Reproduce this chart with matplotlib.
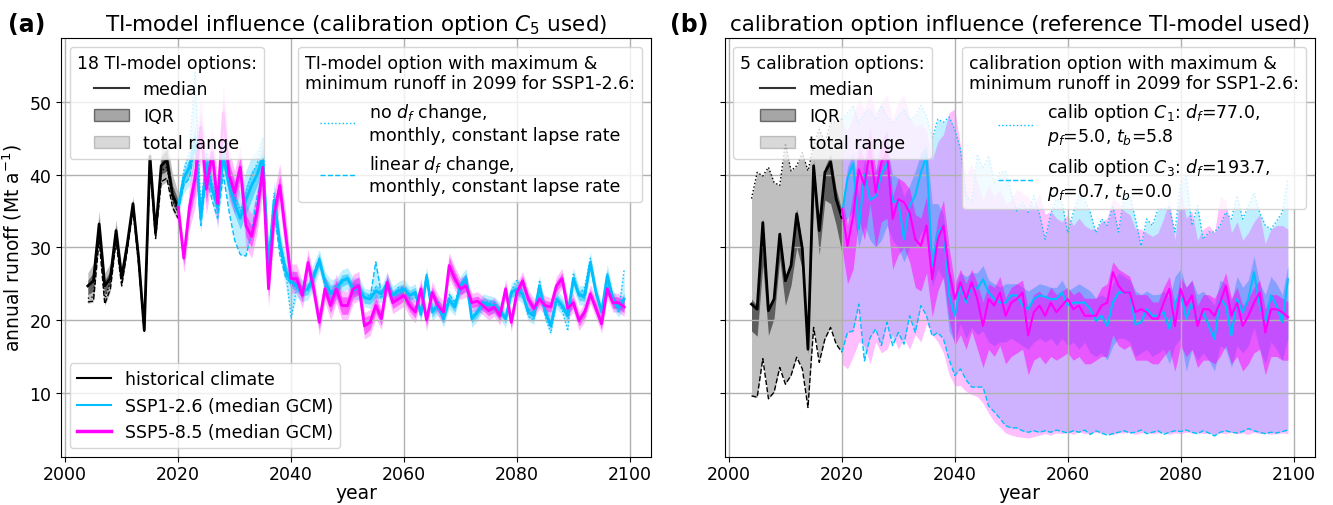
import numpy as np
import matplotlib
matplotlib.use('Agg')
import matplotlib.pyplot as plt
from matplotlib.lines import Line2D
from matplotlib.patches import Patch

# years
hist_years = np.arange(2004, 2021)
fut_years = np.arange(2020, 2100)

# ---------------- panel (a): TI-model influence ----------------
a_hist_med = [24.7, 25.4, 33.2, 24.7, 25.8, 32.3, 25.8, 30.5, 36.0, 28.5, 18.6, 42.5, 32.0, 41.2, 42.0, 37.2, 35.5]
a_hist_iqr_lo = [23.5, 24.0, 32.0, 23.5, 25.0, 31.5, 25.2, 30.0, 35.5, 28.0, 18.4, 41.5, 31.5, 40.0, 40.5, 36.0, 34.5]
a_hist_iqr_hi = [25.5, 26.5, 34.0, 25.5, 26.8, 33.0, 26.5, 31.0, 36.5, 29.0, 18.8, 43.0, 32.5, 42.5, 43.5, 38.5, 36.5]
a_hist_rng_lo = [22.3, 22.5, 30.5, 22.0, 24.0, 30.5, 24.5, 29.5, 35.0, 27.5, 18.2, 40.5, 31.0, 38.5, 39.0, 35.0, 33.5]
a_hist_rng_hi = [26.5, 27.8, 35.0, 26.5, 27.8, 33.8, 27.5, 31.5, 37.0, 29.5, 19.0, 44.0, 33.0, 44.0, 45.0, 40.0, 37.5]
a_hist_dot = [23.0, 23.2, 32.5, 22.8, 25.3, 31.7, 25.0, 30.0, 35.6, 28.2, 18.5, 42.0, 31.6, 40.5, 41.0, 36.5, 34.8]
a_hist_dash = [22.5, 22.6, 31.0, 22.2, 24.3, 30.8, 24.7, 29.6, 35.2, 27.6, 18.3, 41.0, 31.2, 39.0, 39.5, 35.5, 34.0]

a126_med = [35.5, 39.5, 41.0, 45.0, 34.0, 41.5, 38.0, 35.5, 42.5, 38.5,
            36.0, 34.0, 36.5, 38.5, 40.0, 42.5, 27.5, 36.5, 30.5, 26.8,
            25.3, 24.7, 24.0, 24.3, 26.0, 28.2, 25.2, 23.8, 24.2, 25.4,
            25.7, 24.3, 24.4, 23.1, 22.9, 24.0, 23.6, 25.0, 23.4, 24.0,
            24.3, 23.4, 23.8, 20.8, 26.0, 21.1, 22.0, 20.2, 22.8, 21.8,
            24.7, 25.7, 20.2, 21.1, 22.4, 22.2, 22.0, 21.3, 20.2, 23.8,
            24.3, 23.6, 21.1, 20.6, 24.7, 21.1, 19.2, 22.9, 22.0, 20.6,
            25.7, 23.4, 23.4, 27.9, 23.8, 21.1, 26.1, 22.9, 21.6, 22.9]
a126_dot = [35.5, 40.5, 43.0, 54.0, 35.5, 43.0, 39.0, 36.5, 44.5, 39.5,
            37.0, 35.0, 37.5, 40.0, 41.5, 45.0, 28.0, 37.5, 31.0, 27.5,
            20.2, 24.5, 24.5, 24.0, 25.5, 28.5, 24.5, 23.0, 24.5, 25.0,
            26.0, 24.0, 24.5, 23.0, 23.5, 24.5, 23.0, 25.5, 23.0, 24.5,
            24.5, 23.0, 24.0, 20.5, 26.5, 21.0, 22.5, 19.8, 23.0, 22.0,
            25.0, 26.0, 20.0, 21.0, 22.5, 22.5, 22.5, 21.5, 20.0, 24.0,
            25.5, 24.0, 20.5, 20.0, 25.5, 20.5, 18.2, 22.5, 21.5, 18.5,
            26.5, 23.5, 24.5, 28.5, 24.0, 21.0, 26.5, 23.0, 21.0, 27.0]
a126_dash = [35.0, 38.5, 39.5, 44.0, 33.0, 40.0, 36.5, 34.0, 40.0, 35.0,
             31.0, 29.0, 28.8, 32.0, 37.0, 40.0, 26.5, 35.0, 29.0, 26.0,
             25.0, 24.5, 23.5, 24.5, 26.5, 28.5, 25.5, 23.5, 24.0, 25.5,
             25.5, 24.5, 24.0, 23.0, 23.0, 28.0, 23.5, 25.0, 23.5, 23.5,
             24.0, 23.5, 23.5, 21.0, 25.5, 21.5, 22.0, 20.5, 23.5, 22.5,
             24.5, 25.5, 20.5, 21.0, 22.0, 22.0, 21.5, 21.0, 20.5, 23.5,
             24.0, 23.5, 21.5, 21.0, 24.5, 21.5, 19.5, 23.0, 22.0, 21.0,
             25.5, 23.5, 23.0, 27.5, 23.5, 21.5, 25.5, 23.0, 22.0, 21.8]
a126_iqr_hw = [0.8, 1.0, 1.3, 1.5, 1.2, 1.3, 1.0, 1.2, 1.5, 1.2,
               1.5, 1.5, 2.0, 2.0, 1.5, 1.5, 1.0, 1.2, 1.2, 1.0,
               0.8, 0.8, 0.7, 0.8, 0.8, 0.9, 0.8, 1.0, 0.8, 0.8,
               0.7, 0.8, 0.7, 0.8, 0.7, 0.9, 0.7, 0.8, 0.7, 0.7,
               0.7, 0.7, 0.7, 0.6, 0.7, 0.7, 0.6, 0.6, 0.7, 0.7,
               0.8, 0.8, 0.6, 0.7, 0.7, 0.7, 0.7, 0.6, 0.6, 0.7,
               0.8, 0.7, 0.7, 0.6, 0.7, 0.7, 0.6, 0.7, 0.7, 0.7,
               0.8, 0.7, 0.8, 0.8, 0.7, 0.6, 0.8, 0.7, 0.6, 0.8]
a126_rng_hw = [1.5, 2.0, 2.5, 3.0, 2.0, 2.5, 2.0, 2.5, 3.0, 2.5,
               3.5, 3.5, 4.0, 4.0, 3.5, 3.0, 2.0, 2.5, 2.0, 2.0,
               1.8, 1.5, 1.5, 1.5, 1.8, 1.5, 1.5, 1.8, 1.5, 1.5,
               1.5, 1.5, 1.5, 1.3, 1.3, 1.5, 1.2, 1.5, 1.3, 1.3,
               1.3, 1.2, 1.2, 1.2, 1.3, 1.2, 1.2, 1.2, 1.3, 1.2,
               1.4, 1.4, 1.2, 1.2, 1.2, 1.2, 1.2, 1.2, 1.2, 1.3,
               1.4, 1.3, 1.2, 1.2, 1.4, 1.3, 1.2, 1.3, 1.3, 1.3,
               1.5, 1.3, 1.4, 1.5, 1.3, 1.2, 1.5, 1.3, 1.2, 1.4]

a585_med = [35.5, 28.5, 35.5, 39.5, 46.5, 38.0, 43.0, 36.0, 48.5, 40.0,
            37.5, 41.0, 33.0, 31.5, 35.0, 41.0, 24.3, 34.5, 38.5, 32.0,
            25.7, 25.7, 23.4, 27.9, 24.3, 19.7, 24.3, 22.0, 24.3, 22.0,
            22.0, 24.3, 24.7, 19.2, 19.7, 22.0, 20.2, 25.2, 22.4, 22.9,
            23.4, 22.0, 21.1, 24.3, 20.0, 23.8, 22.0, 21.1, 27.5, 25.7,
            24.3, 24.7, 22.4, 22.6, 22.0, 21.3, 21.8, 20.6, 24.3, 19.7,
            23.8, 25.4, 22.9, 21.6, 22.9, 22.0, 21.8, 24.7, 25.7, 21.6,
            22.4, 19.9, 21.1, 23.6, 21.6, 19.5, 24.3, 22.4, 22.4, 21.8]
a585_iqr_hw = [0.8, 1.0, 1.5, 2.0, 2.0, 2.0, 1.5, 1.5, 2.0, 1.8,
               1.5, 1.5, 1.5, 1.5, 1.5, 1.8, 1.2, 1.5, 1.5, 1.5,
               1.0, 1.0, 0.9, 1.0, 0.9, 0.9, 1.0, 1.0, 1.2, 1.2,
               1.2, 1.2, 1.2, 1.2, 1.0, 1.0, 0.9, 0.9, 0.8, 0.8,
               0.8, 0.8, 0.8, 0.8, 0.8, 0.8, 0.8, 0.8, 1.2, 1.0,
               0.8, 0.8, 0.7, 0.7, 0.7, 0.7, 0.7, 0.7, 0.7, 0.7,
               0.7, 0.7, 0.7, 0.7, 0.7, 0.7, 0.7, 0.7, 0.8, 0.8,
               0.7, 0.7, 0.7, 0.7, 0.8, 0.7, 0.8, 0.8, 0.8, 0.8]
a585_rng_hw = [1.5, 2.0, 3.0, 4.0, 4.5, 3.5, 3.5, 3.5, 4.0, 3.5,
               3.0, 3.0, 3.0, 3.0, 3.0, 3.5, 2.5, 3.0, 3.0, 3.0,
               2.0, 2.0, 1.8, 1.8, 1.8, 1.8, 1.8, 2.0, 2.0, 2.0,
               2.0, 2.0, 2.0, 1.8, 1.8, 1.8, 1.5, 1.5, 1.5, 1.5,
               1.5, 1.5, 1.5, 1.5, 1.5, 1.5, 1.5, 1.5, 1.8, 1.6,
               1.5, 1.5, 1.3, 1.3, 1.3, 1.3, 1.3, 1.3, 1.3, 1.3,
               1.3, 1.3, 1.3, 1.3, 1.3, 1.3, 1.3, 1.3, 1.4, 1.4,
               1.3, 1.3, 1.3, 1.3, 1.3, 1.3, 1.3, 1.3, 1.3, 1.3]

# ---------------- panel (b): calibration option influence ----------------
b_hist_med = [22.2, 21.5, 33.4, 21.3, 22.9, 31.8, 25.4, 27.5, 34.6, 29.8, 16.0, 41.2, 32.3, 40.3, 41.7, 36.6, 34.1]
b_hist_iqr_lo = [18.5, 17.8, 27.6, 17.9, 20.3, 28.4, 22.0, 24.8, 30.0, 27.0, 15.3, 37.5, 29.0, 36.5, 36.0, 33.0, 29.3]
b_hist_iqr_hi = [22.9, 22.0, 34.0, 21.8, 23.4, 32.3, 26.0, 28.0, 35.3, 30.4, 16.5, 42.0, 33.0, 41.0, 42.8, 38.0, 35.0]
b_hist_rng_lo = [9.6, 9.4, 14.7, 9.2, 10.1, 13.5, 11.2, 12.4, 14.9, 13.3, 8.0, 19.0, 14.2, 17.4, 19.0, 16.7, 15.6]
b_hist_rng_hi = [36.7, 40.3, 39.8, 41.0, 38.9, 38.5, 44.3, 40.5, 41.2, 43.0, 40.5, 44.0, 46.2, 44.5, 47.0, 47.3, 47.6]

b126_med = [34.5, 39.5, 41.5, 32.5, 40.0, 36.5, 37.0, 40.0, 41.5, 36.2,
            36.4, 31.1, 35.7, 37.1, 40.3, 42.6, 27.5, 32.1, 33.0, 23.4,
            20.6, 24.7, 22.4, 24.7, 24.3, 25.6, 23.8, 22.9, 22.4, 22.4,
            23.4, 23.4, 22.0, 21.5, 22.9, 23.4, 23.2, 22.9, 22.9, 23.8,
            22.0, 22.4, 22.4, 22.4, 21.5, 19.9, 20.6, 19.2, 22.4, 23.8,
            23.8, 23.8, 19.4, 19.7, 21.5, 20.6, 20.6, 21.1, 18.8, 22.4,
            23.8, 20.2, 22.4, 19.7, 21.1, 19.2, 17.4, 22.9, 22.0, 17.9,
            22.9, 21.1, 22.9, 26.6, 22.0, 19.7, 23.4, 22.0, 19.7, 25.6]
b126_iqr_lo = [33.0, 34.0, 35.0, 30.0, 33.0, 31.0, 30.0, 31.0, 33.0, 31.0,
               30.0, 28.0, 30.0, 30.0, 32.0, 33.0, 24.5, 27.0, 25.5, 18.5,
               17.0, 19.5, 17.5, 19.0, 18.0, 18.5, 17.0, 16.5, 17.0, 17.0,
               17.5, 17.0, 16.5, 16.0, 17.0, 17.5, 17.0, 17.5, 16.5, 17.5,
               16.5, 17.0, 16.0, 17.0, 15.5, 15.0, 15.5, 14.5, 16.5, 17.5,
               17.5, 17.0, 15.0, 15.5, 16.0, 15.0, 15.5, 16.0, 14.0, 16.5,
               17.5, 13.0, 16.0, 14.5, 15.5, 14.5, 13.0, 16.5, 16.0, 13.5,
               16.5, 15.5, 16.5, 19.0, 16.0, 14.0, 17.0, 16.0, 14.5, 17.5]
b126_iqr_hi = [35.5, 41.0, 43.0, 37.0, 42.0, 40.0, 40.5, 42.0, 43.5, 40.0,
               39.5, 37.0, 38.5, 40.5, 43.0, 44.0, 36.0, 36.0, 34.5, 27.0,
               24.5, 26.5, 26.0, 26.5, 26.5, 27.5, 25.5, 25.0, 24.5, 25.0,
               25.0, 25.0, 24.5, 24.0, 24.5, 25.0, 24.8, 24.5, 24.5, 25.5,
               24.0, 24.5, 25.0, 24.5, 24.0, 23.0, 23.5, 23.0, 25.0, 26.5,
               26.0, 25.5, 24.0, 23.5, 24.0, 23.5, 23.5, 24.0, 23.0, 26.0,
               27.0, 24.5, 25.5, 23.5, 24.0, 23.0, 22.0, 25.5, 25.0, 22.5,
               26.0, 24.5, 25.5, 28.8, 25.0, 23.5, 26.0, 25.0, 23.5, 27.5]
# calib option C3 (minimum) and C1 (maximum) = total range for SSP1-2.6
b126_rng_lo = [15.6, 18.3, 18.5, 22.2, 14.4, 17.6, 18.8, 16.5, 19.7, 16.5,
               18.3, 16.7, 20.6, 18.3, 22.0, 20.6, 17.8, 18.3, 17.4, 14.6,
               12.4, 13.3, 11.8, 10.8, 10.8, 10.8, 8.2, 7.4, 6.5, 5.5,
               5.2, 5.2, 4.8, 4.6, 4.8, 4.6, 4.8, 4.6, 4.9, 4.7,
               4.5, 4.8, 4.6, 4.9, 4.3, 4.8, 4.5, 4.2, 4.4, 4.6,
               4.8, 4.5, 4.6, 4.9, 4.4, 4.6, 4.8, 4.3, 4.6, 4.8,
               4.7, 4.9, 4.6, 4.4, 4.8, 4.5, 4.1, 4.6, 4.8, 4.6,
               4.5, 4.7, 5.1, 4.8, 4.6, 4.4, 4.6, 4.5, 4.7, 4.9]
b126_rng_hi = [47.6, 48.5, 49.5, 47.0, 48.5, 49.0, 47.5, 49.5, 48.0, 47.0,
               48.0, 49.0, 47.5, 48.0, 49.5, 48.0, 44.9, 47.6, 47.2, 47.9,
               46.2, 43.5, 37.1, 36.2, 42.8, 40.8, 42.6, 38.9, 40.3, 40.5,
               37.5, 35.0, 36.2, 34.8, 37.1, 34.6, 31.1, 34.6, 36.6, 36.2,
               32.0, 34.8, 37.1, 36.6, 34.8, 32.0, 33.9, 33.0, 35.7, 32.1,
               37.1, 37.1, 33.9, 30.2, 33.9, 33.0, 35.3, 35.3, 35.5, 32.1,
               38.9, 39.8, 33.0, 35.7, 31.1, 32.1, 32.1, 33.0, 34.8, 33.9,
               37.1, 33.9, 35.7, 37.5, 34.8, 33.0, 32.5, 33.6, 34.8, 39.4]

b585_med = [35.3, 30.2, 34.3, 40.7, 38.5, 43.5, 37.5, 41.7, 43.0, 33.9,
            36.6, 36.2, 34.8, 31.1, 30.2, 33.0, 25.6, 31.1, 33.0, 26.6,
            22.9, 25.2, 22.9, 25.2, 22.9, 19.2, 22.9, 22.0, 23.8, 20.6,
            22.4, 22.9, 23.8, 17.9, 21.1, 22.0, 20.6, 22.4, 21.1, 22.0,
            22.9, 21.5, 22.0, 20.6, 20.6, 20.6, 22.0, 22.4, 26.6, 24.7,
            23.8, 23.8, 21.1, 21.5, 21.1, 20.2, 20.2, 22.4, 24.3, 19.2,
            24.3, 22.0, 23.4, 19.2, 21.5, 21.5, 20.6, 22.4, 24.7, 20.6,
            22.4, 19.2, 20.6, 22.4, 23.8, 18.3, 21.5, 21.5, 21.1, 20.4]
b585_iqr_lo = [30.0, 25.0, 27.0, 34.0, 31.0, 36.0, 30.0, 33.5, 34.0, 27.0,
               29.0, 30.0, 28.0, 24.5, 24.0, 26.5, 20.5, 24.0, 26.0, 20.0,
               16.5, 18.0, 16.0, 18.5, 16.0, 13.5, 16.0, 15.0, 16.5, 14.0,
               15.0, 15.5, 16.0, 12.5, 14.5, 15.0, 14.0, 15.0, 14.5, 15.0,
               15.5, 14.5, 15.0, 14.0, 14.0, 14.5, 15.0, 15.0, 18.0, 16.5,
               16.0, 16.5, 14.5, 14.5, 14.5, 14.0, 14.0, 15.0, 16.0, 13.0,
               16.5, 15.0, 16.0, 13.5, 14.5, 14.5, 14.0, 15.0, 16.5, 14.0,
               15.0, 13.0, 14.0, 15.5, 16.0, 12.5, 15.0, 15.0, 14.5, 14.5]
b585_iqr_hi = [37.0, 33.0, 37.5, 44.0, 42.0, 46.5, 40.5, 44.5, 46.0, 37.0,
               39.5, 39.0, 38.0, 34.5, 34.0, 37.0, 29.0, 34.0, 36.5, 30.0,
               25.0, 27.0, 25.0, 27.0, 25.0, 22.5, 25.0, 24.5, 26.0, 23.0,
               24.5, 25.0, 25.5, 21.5, 23.5, 24.0, 23.0, 24.5, 23.5, 24.0,
               24.5, 23.5, 24.0, 23.0, 23.0, 23.0, 24.5, 25.0, 28.0, 27.0,
               26.5, 26.0, 23.5, 23.5, 23.5, 22.5, 22.5, 24.5, 26.0, 22.0,
               26.0, 24.5, 25.5, 22.0, 23.5, 23.5, 23.0, 24.5, 26.5, 23.0,
               24.5, 22.0, 23.0, 24.5, 25.5, 21.5, 23.5, 23.5, 23.0, 22.5]
b585_rng_lo = [14.0, 13.3, 15.0, 17.0, 16.5, 14.0, 17.0, 15.5, 16.0, 18.0,
               16.0, 17.5, 16.0, 18.0, 17.0, 19.5, 18.0, 17.0, 15.5, 12.5,
               11.0, 11.0, 10.2, 9.8, 9.5, 8.6, 7.2, 6.0, 5.3, 4.5,
               4.2, 4.0, 3.9, 3.8, 4.0, 4.2, 4.4, 4.2, 4.5, 4.4,
               4.6, 4.3, 4.7, 4.4, 4.5, 4.6, 4.4, 4.5, 4.3, 4.5,
               4.5, 4.6, 4.3, 4.5, 4.6, 4.4, 4.5, 4.6, 4.3, 4.5,
               4.4, 4.6, 4.5, 4.6, 4.4, 4.5, 4.3, 4.5, 4.4, 4.6,
               4.4, 4.5, 4.3, 4.6, 4.4, 4.5, 4.3, 4.4, 4.5, 4.4]
b585_rng_hi = [47.0, 46.0, 48.0, 50.5, 49.0, 51.5, 48.5, 50.0, 51.0, 47.5,
               50.0, 51.0, 48.0, 46.5, 47.0, 46.0, 42.0, 44.5, 45.5, 48.5,
               49.0, 44.0, 40.0, 41.5, 39.0, 36.5, 38.5, 37.0, 38.0, 36.0,
               36.5, 38.0, 37.5, 37.0, 35.5, 37.5, 34.5, 35.0, 34.0, 33.5,
               34.5, 33.0, 34.0, 33.0, 32.5, 32.5, 33.5, 34.0, 37.0, 36.0,
               35.0, 34.5, 32.5, 32.5, 32.0, 31.5, 32.0, 34.0, 36.5, 31.0,
               38.0, 34.0, 35.0, 31.0, 32.5, 33.0, 32.0, 37.0, 36.5, 32.0,
               33.5, 31.0, 32.0, 33.5, 34.5, 30.5, 32.5, 33.0, 33.0, 32.5]

# colours
c126 = 'deepskyblue'
c585 = 'magenta'
fs = 12.5

plt.rcParams['font.size'] = fs

fig = plt.figure(figsize=(13.33, 5.06), dpi=100)
axA = fig.add_axes([61/1333, 48/506, 590/1333, 419/506])
axB = fig.add_axes([724.7/1333, 48/506, 590/1333, 419/506], sharey=axA)

'''
panel (a)
'''
ax = axA
ax.fill_between(hist_years, a_hist_rng_lo, a_hist_rng_hi, color='k', alpha=0.25, lw=0)
ax.fill_between(hist_years, a_hist_iqr_lo, a_hist_iqr_hi, color='k', alpha=0.5, lw=0)
ax.plot(hist_years, a_hist_med, color='k', lw=2)
ax.plot(hist_years, a_hist_dot, color='k', lw=1, ls=':')
ax.plot(hist_years, a_hist_dash, color='k', lw=1, ls='--')

for med, iqr_hw, rng_hw, col in [(a126_med, a126_iqr_hw, a126_rng_hw, c126),
                                 (a585_med, a585_iqr_hw, a585_rng_hw, c585)]:
    med = np.array(med)
    lo = med - np.array(rng_hw)
    hi = med + np.array(rng_hw)
    if col == c126:
        lo = np.minimum.reduce([lo, a126_dot, a126_dash])
        hi = np.maximum.reduce([hi, a126_dot, a126_dash])
    ax.fill_between(fut_years, lo, hi, color=col, alpha=0.25, lw=0)
    ax.fill_between(fut_years, med - np.array(iqr_hw), med + np.array(iqr_hw), color=col, alpha=0.5, lw=0)
ax.plot(fut_years, a126_med, color=c126, lw=2)
ax.plot(fut_years, a126_dot, color=c126, lw=1, ls=':')
ax.plot(fut_years, a126_dash, color=c126, lw=1, ls='--')
ax.plot(fut_years, a585_med, color=c585, lw=2)

'''
panel (b)
'''
ax = axB
ax.fill_between(hist_years, b_hist_rng_lo, b_hist_rng_hi, color='k', alpha=0.25, lw=0)
ax.fill_between(hist_years, b_hist_iqr_lo, b_hist_iqr_hi, color='k', alpha=0.5, lw=0)
ax.plot(hist_years, b_hist_med, color='k', lw=2)
ax.plot(hist_years, b_hist_rng_hi, color='k', lw=1, ls=':')
ax.plot(hist_years, b_hist_rng_lo, color='k', lw=1, ls='--')

ax.fill_between(fut_years, b126_rng_lo, b126_rng_hi, color=c126, alpha=0.25, lw=0)
ax.fill_between(fut_years, b126_iqr_lo, b126_iqr_hi, color=c126, alpha=0.5, lw=0)
ax.fill_between(fut_years, b585_rng_lo, b585_rng_hi, color=c585, alpha=0.25, lw=0)
ax.fill_between(fut_years, b585_iqr_lo, b585_iqr_hi, color=c585, alpha=0.5, lw=0)
ax.plot(fut_years, b126_med, color=c126, lw=1.5)
ax.plot(fut_years, b126_rng_hi, color=c126, lw=1, ls=':')
ax.plot(fut_years, b126_rng_lo, color=c126, lw=1, ls='--')
ax.plot(fut_years, b585_med, color=c585, lw=1.5)

# axes cosmetics
for ax in (axA, axB):
    ax.set_xlim(1999.25, 2103.75)
    ax.set_xticks([2000, 2020, 2040, 2060, 2080, 2100])
    ax.grid(True, color='#b0b0b0', lw=1)
    ax.set_xlabel('year', fontsize=13.5, labelpad=0)
    ax.tick_params(labelsize=fs)
    ax.tick_params(axis='x', pad=2)
axA.set_ylim(1.2, 58.75)
axA.set_yticks([10, 20, 30, 40, 50])
axB.tick_params(labelleft=False)
axA.set_ylabel('annual runoff (Mt a$^{-1}$)', fontsize=13.5)
axA.set_title('TI-model influence (calibration option $C_5$ used)', fontsize=15.5)
axB.set_title('calibration option influence (reference TI-model used)', fontsize=15.5)

# legends
stat_handles = [Line2D([], [], color='#333333', lw=1.5),
                Patch(facecolor=(0, 0, 0, 0.35), edgecolor=(0, 0, 0, 0.5)),
                Patch(facecolor=(0, 0, 0, 0.15), edgecolor=(0, 0, 0, 0.2))]
stat_labels = ['median', 'IQR', 'total range']
opt_handles = [Line2D([], [], color=c126, lw=1, ls=':'),
               Line2D([], [], color=c126, lw=1, ls='--')]

l1 = axA.legend(stat_handles, stat_labels, title='18 TI-model options:', loc='upper left',
                fontsize=fs, title_fontsize=fs)
axA.add_artist(l1)
l2 = axA.legend(opt_handles,
                ['no $d_f$ change,\nmonthly, constant lapse rate',
                 'linear $d_f$ change,\nmonthly, constant lapse rate'],
                title='TI-model option with maximum &\nminimum runoff in 2099 for SSP1-2.6:',
                loc='upper right', fontsize=fs, title_fontsize=fs)
axA.add_artist(l2)
axA.legend([Line2D([], [], color='k', lw=1.5), Line2D([], [], color=c126, lw=1.5),
            Line2D([], [], color=c585, lw=2.5)],
           ['historical climate', 'SSP1-2.6 (median GCM)', 'SSP5-8.5 (median GCM)'],
           loc='lower left', fontsize=fs)

l3 = axB.legend(stat_handles, stat_labels, title='5 calibration options:', loc='upper left',
                fontsize=fs, title_fontsize=fs)
axB.add_artist(l3)
axB.legend(opt_handles,
           ['calib option $C_1$: $d_f$=77.0,\n$p_f$=5.0, $t_b$=5.8',
            'calib option $C_3$: $d_f$=193.7,\n$p_f$=0.7, $t_b$=0.0'],
           title='calibration option with maximum &\nminimum runoff in 2099 for SSP1-2.6:',
           loc='upper right', fontsize=fs, title_fontsize=fs)

fig.text(0.006, 0.975, '(a)', fontsize=17, fontweight='bold', va='top')
fig.text(0.503, 0.975, '(b)', fontsize=17, fontweight='bold', va='top')

plt.savefig('out.png', dpi=100)
plt.close()
